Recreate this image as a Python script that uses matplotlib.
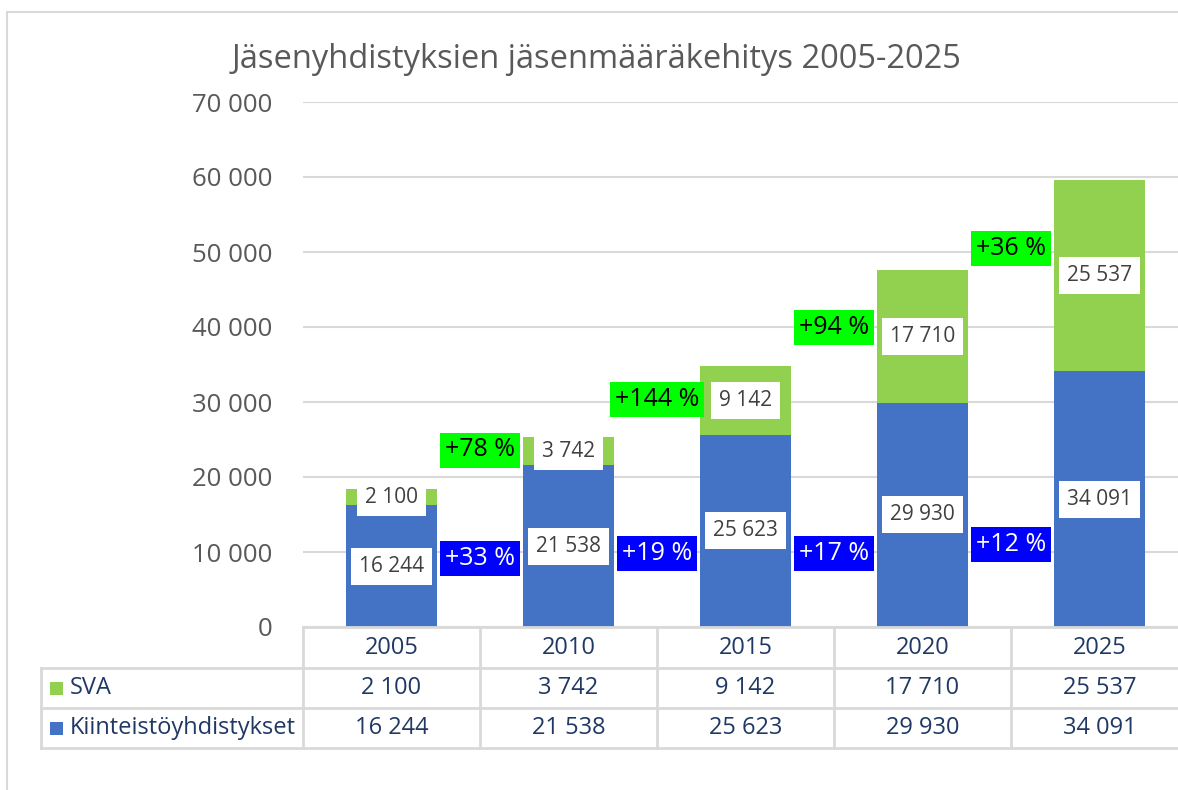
import matplotlib
matplotlib.use("Agg")
import matplotlib.pyplot as plt
import matplotlib.transforms as mtransforms
from matplotlib.lines import Line2D
from matplotlib.patches import Rectangle
from matplotlib.ticker import FuncFormatter

years = ["2005", "2010", "2015", "2020", "2025"]
kiinteisto = [16244, 21538, 25623, 29930, 34091]
sva = [2100, 3742, 9142, 17710, 25537]
series_names = ["SVA", "Kiinteistöyhdistykset"]

# growth callouts placed between the bars (text as in the original)
sva_growth = ["+78 %", "+144 %", "+94 %", "+36 %"]
sva_growth_y = [23600, 30300, 39900, 50500]
kiint_growth = ["+33 %", "+19 %", "+17 %", "+12 %"]
kiint_growth_y = [9100, 9750, 9750, 11050]

W, H = 1178, 790
BLUE = "#4472C4"
GREEN = "#92D050"
GRID = "#d9d9d9"
FONT = "Open Sans"
plt.rcParams["font.family"] = [FONT, "DejaVu Sans"]


def fmt(v):
    return f"{v:,.0f}".replace(",", " ")


fig = plt.figure(figsize=(W / 100, H / 100), dpi=100)
# outer chart frame (right and bottom fall outside the picture)
fig.add_artist(Rectangle((7 / W, -0.1), 2, 1 - 12 / H + 0.1, transform=fig.transFigure,
                         fill=False, ec=GRID, lw=1.5))

ax = fig.add_axes([303 / W, 163 / H, 885 / W, 525 / H])
x = range(len(years))
ax.bar(x, kiinteisto, width=0.51, color=BLUE, zorder=2)
ax.bar(x, sva, width=0.51, bottom=kiinteisto, color=GREEN, zorder=2)

ax.set_xlim(-0.5, len(years) - 0.5)
ax.set_ylim(0, 70000)
ax.set_yticks(range(0, 70001, 10000))
ax.yaxis.set_major_formatter(FuncFormatter(lambda v, p: fmt(v)))
ax.tick_params(axis="y", length=0, pad=22, labelsize=18.5, labelcolor="#595959")
ax.set_xticks([])
ax.grid(axis="y", color=GRID, lw=1.5, zorder=0)
for s in ax.spines.values():
    s.set_visible(False)

# data labels
lab_box = dict(boxstyle="square,pad=0.38", fc="white", ec="none")
for i in x:
    ax.text(i, kiinteisto[i] / 2, fmt(kiinteisto[i]), ha="center", va="center",
            fontsize=15, color="#404040", bbox=lab_box, zorder=4)
    ax.text(i, kiinteisto[i] + sva[i] / 2, fmt(sva[i]), ha="center", va="center",
            fontsize=15, color="#404040", bbox=lab_box, zorder=4)

for i in range(len(sva_growth)):
    ax.text(i + 0.5, sva_growth_y[i], sva_growth[i], ha="center", va="center",
            fontsize=18, color="black", zorder=5,
            bbox=dict(boxstyle="square,pad=0.2", fc="#00FF00", ec="none"))
    ax.text(i + 0.5, kiint_growth_y[i], kiint_growth[i], ha="center", va="center",
            fontsize=18, color="white", zorder=5,
            bbox=dict(boxstyle="square,pad=0.2", fc="#0000FF", ec="none"))

# data table below the plot
tr = mtransforms.blended_transform_factory(ax.transData, fig.transFigure)
row_edges = [627, 668, 708, 748]
fy = [1 - r / H for r in row_edges]
tab_left = ax.transData.inverted().transform(fig.transFigure.transform((41 / W, 0)))[0]
n = len(years)
lw = 2
# horizontal lines
fig.add_artist(Line2D([-0.5, n - 0.5], [fy[0]] * 2, transform=tr, color=GRID, lw=lw))
for yy in fy[1:]:
    fig.add_artist(Line2D([tab_left, n - 0.5], [yy] * 2, transform=tr, color=GRID, lw=lw))
# vertical lines
for b in range(n + 1):
    fig.add_artist(Line2D([b - 0.5] * 2, [fy[0], fy[3]], transform=tr, color=GRID, lw=lw))
fig.add_artist(Line2D([tab_left] * 2, [fy[1], fy[3]], transform=tr, color=GRID, lw=lw))

TXT = "#1F3864"
row_mid = [(fy[k] + fy[k + 1]) / 2 for k in range(3)]
for i in x:
    fig.text(i, row_mid[0], years[i], transform=tr, ha="center", va="center",
             fontsize=17, color=TXT)
    fig.text(i, row_mid[1], fmt(sva[i]), transform=tr, ha="center", va="center",
             fontsize=17, color=TXT)
    fig.text(i, row_mid[2], fmt(kiinteisto[i]), transform=tr, ha="center", va="center",
             fontsize=17, color=TXT)

for k, (name, col) in enumerate(zip(series_names, [GREEN, BLUE])):
    fig.add_artist(Rectangle((50 / W, row_mid[k + 1] - 6.5 / H), 13 / W, 13 / H,
                             transform=fig.transFigure, fc=col, ec="none"))
    fig.text(70 / W, row_mid[k + 1], name, ha="left", va="center", fontsize=17, color=TXT)

fig.text(597 / W, 1 - 60 / H, "Jäsenyhdistyksien jäsenmääräkehitys 2005-2025",
         ha="center", va="center", fontsize=23.5, color="#595959")

fig.savefig("out.png", dpi=100)
